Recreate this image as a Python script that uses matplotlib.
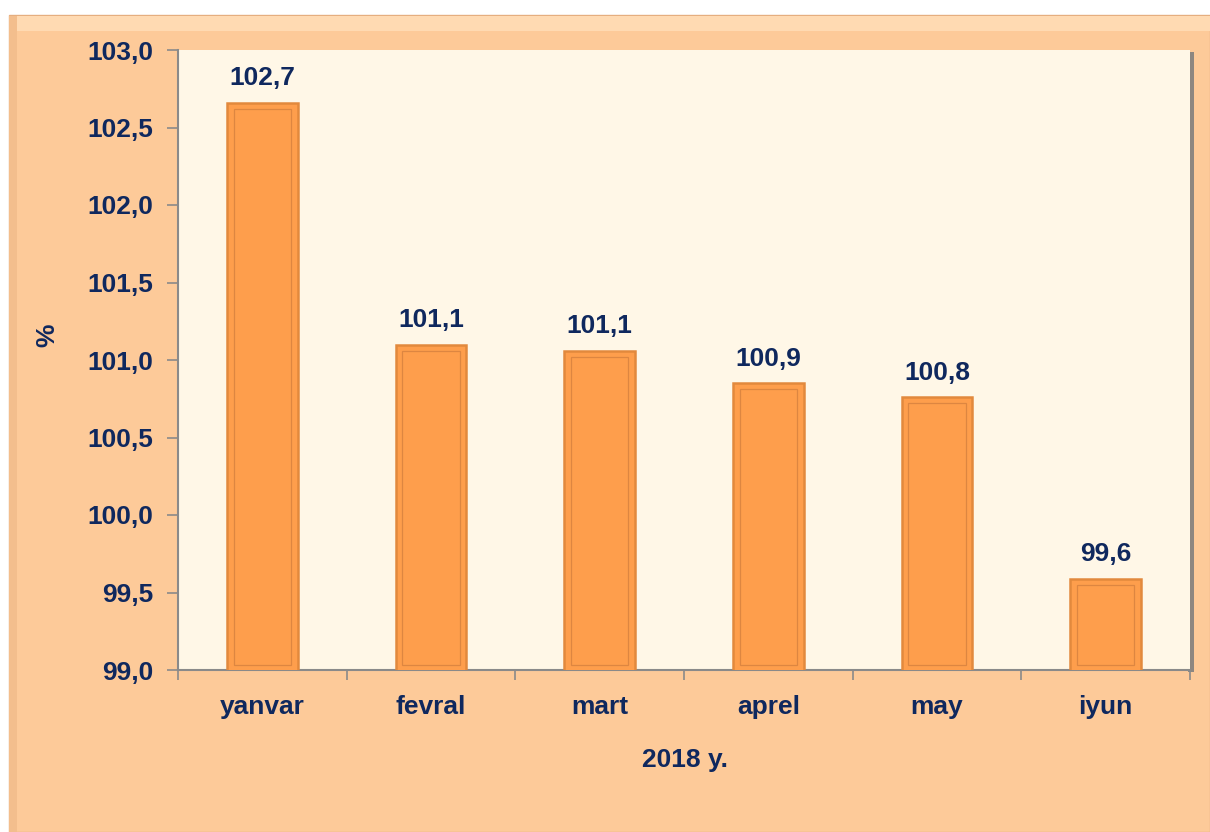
import matplotlib.pyplot as plt
from matplotlib.patches import Rectangle

plt.rcParams['font.family'] = ['Liberation Sans', 'DejaVu Sans']
plt.rcParams['font.weight'] = 'bold'

# Data
months = ["yanvar", "fevral", "mart", "aprel", "may", "iyun"]
values = [102.66, 101.10, 101.06, 100.85, 100.76, 99.59]
value_labels = ["102,7", "101,1", "101,1", "100,9", "100,8", "99,6"]
y_ticks = [99.0, 99.5, 100.0, 100.5, 101.0, 101.5, 102.0, 102.5, 103.0]

NAVY = "#0F285E"
PANEL = "#FDCA99"
PLOT_BG = "#FFF7E7"
BAR_FACE = "#FE9E4C"
BAR_EDGE = "#E2893D"
FS = 19

W, H = 1210, 832
fig = plt.figure(figsize=(12.1, 8.32), dpi=100)
fig.patch.set_facecolor("white")

# background layer in pixel coordinates (y from the top)
bg = fig.add_axes([0, 0, 1, 1], zorder=-10)
bg.set_xlim(0, W)
bg.set_ylim(H, 0)
bg.axis("off")
bg.add_patch(Rectangle((9, 15), W - 9, H - 15, facecolor=PANEL,
                       edgecolor="#E5AE80", linewidth=1.0))
# bevel bands
bg.add_patch(Rectangle((9, 16), W - 9, 15, facecolor="#FFDAB2", edgecolor="none"))
bg.add_patch(Rectangle((9, 16), 8, H - 16, facecolor="#F3BE8D", edgecolor="none"))
# shadow of the plot area
bg.add_patch(Rectangle((1188, 52), 6, 620, facecolor="#8E8780", edgecolor="none"))

ax = fig.add_axes([178 / W, 1 - 670 / H, 1012 / W, 620 / H])
ax.set_facecolor(PLOT_BG)

x = list(range(len(months)))
ax.bar(x, values, width=0.42, color=BAR_FACE,
       edgecolor=BAR_EDGE, linewidth=1.8, zorder=3)
# inner bevel line
ax.bar(x, [v - 99.0 - 0.07 for v in values], width=0.34, bottom=99.0 + 0.03,
       color="none", edgecolor="#C8763A", linewidth=0.9, alpha=0.6, zorder=4)

for xi, v, lab in zip(x, values, value_labels):
    ax.annotate(lab, (xi, v), xytext=(0, 9), textcoords="offset points",
                ha="center", va="bottom", fontsize=FS, fontweight="bold",
                color=NAVY, zorder=5)

ax.set_xlim(-0.5, len(months) - 0.5)
ax.set_ylim(99.0, 103.0)
ax.set_yticks(y_ticks)
ax.set_yticklabels([f"{t:.1f}".replace(".", ",") for t in y_ticks])
ax.set_xticks(x)
ax.set_xticklabels(months)
ax.set_xticks([i - 0.5 for i in range(len(months) + 1)], minor=True)

ax.tick_params(axis="y", which="major", length=8, width=1.2, color="#8A8A8A",
               labelsize=FS, labelcolor=NAVY, pad=10)
ax.tick_params(axis="x", which="major", length=0, labelsize=FS,
               labelcolor=NAVY, pad=18)
ax.tick_params(axis="x", which="minor", length=7, width=1.2, color="#8A8A8A")

for side in ["top", "right"]:
    ax.spines[side].set_visible(False)
ax.spines["left"].set_color("#8A8A8A")
ax.spines["left"].set_linewidth(1.5)
ax.spines["bottom"].set_color("#8A8A8A")
ax.spines["bottom"].set_linewidth(1.5)

fig.text(47 / W, 1 - 335 / H, "%", rotation=90, ha="center", va="center",
         fontsize=FS, fontweight="bold", color=NAVY)
fig.text(685 / W, 1 - 760 / H, "2018 y.", ha="center", va="center",
         fontsize=FS, fontweight="bold", color=NAVY)

fig.savefig("out.png", dpi=100, facecolor=fig.get_facecolor())
